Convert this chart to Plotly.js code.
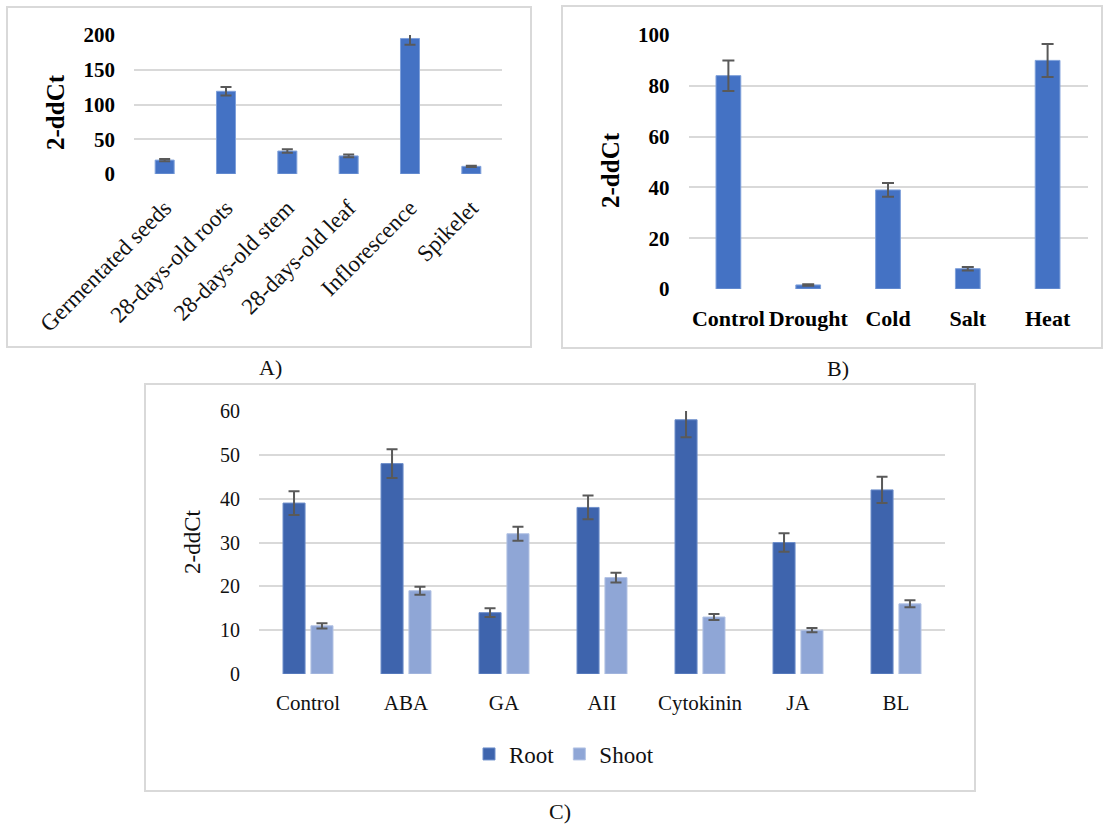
<!DOCTYPE html>
<html>
<head>
<meta charset="utf-8">
<script src="https://cdn.plot.ly/plotly-3.0.1.min.js"></script>
<style>
html,body{margin:0;padding:0;background:#fff;}
#chart{width:1104px;height:825px;}
</style>
</head>
<body>
<div id="chart"></div>
<script>
// ---- Data ----
const catsA = ['Germentated seeds', '28-days-old roots', '28-days-old stem', '28-days-old leaf', 'Inflorescence', 'Spikelet'];
const valsA = [20, 119, 33, 26, 195, 11];
const errA = [1.5, 6, 2.5, 2, 9, 1];

const catsB = ['Control', 'Drought', 'Cold', 'Salt', 'Heat'];
const valsB = [84, 1.6, 39, 8, 90];
const errB = [6, 0.3, 2.7, 0.7, 6.5];

const catsC = ['Control', 'ABA', 'GA', 'AII', 'Cytokinin', 'JA', 'BL'];
const rootC = [39, 48, 14, 38, 58, 30, 42];
const rootErr = [2.7, 3.3, 1, 2.7, 4, 2.1, 3];
const shootC = [11, 19, 32, 22, 13, 10, 16];
const shootErr = [0.6, 0.9, 1.6, 1.1, 0.7, 0.5, 0.8];

const yTitle = '2-ddCt';
const panelLabels = ['A)', 'B)', 'C)'];

// ---- Helpers ----
const W = 1104, H = 825;
const px = x => x / W;
const py = y => 1 - y / H;
const FONT = 'Liberation Serif';
const GRID = '#D9D9D9';
const ERRC = '#595959';

function box(x0, y0, x1, y1) {
  return {type: 'rect', xref: 'paper', yref: 'paper', x0: px(x0), x1: px(x1), y0: py(y1), y1: py(y0),
    line: {color: GRID, width: 2}, fillcolor: 'rgba(0,0,0,0)', layer: 'below'};
}

const traces = [
  {type: 'bar', x: catsA, y: valsA, xaxis: 'x', yaxis: 'y', width: 0.31, showlegend: false,
    marker: {color: '#4472C4', line: {color: '#7FA0DA', width: 1}},
    error_y: {type: 'data', array: errA, visible: true, color: ERRC, thickness: 2, width: 5.5}},
  {type: 'bar', x: catsB, y: valsB, xaxis: 'x2', yaxis: 'y2', width: 0.31, showlegend: false,
    marker: {color: '#4472C4', line: {color: '#7FA0DA', width: 1}},
    error_y: {type: 'data', array: errB, visible: true, color: ERRC, thickness: 2, width: 6}},
  {type: 'bar', name: 'Root', x: catsC, y: rootC, xaxis: 'x3', yaxis: 'y3',
    marker: {color: '#3E64AD', line: {color: '#6F8FCB', width: 1}},
    error_y: {type: 'data', array: rootErr, visible: true, color: ERRC, thickness: 2, width: 5.5}},
  {type: 'bar', name: 'Shoot', x: catsC, y: shootC, xaxis: 'x3', yaxis: 'y3',
    marker: {color: '#8FA6D6', line: {color: '#B3C3E4', width: 1}},
    error_y: {type: 'data', array: shootErr, visible: true, color: ERRC, thickness: 2, width: 5.5}}
];

const yBase = {showgrid: true, gridcolor: GRID, gridwidth: 1.5, zeroline: false, showline: false, ticks: '',
  ticklabelstandoff: 18, fixedrange: true};
const xBase = {showgrid: false, zeroline: false, showline: false, ticks: '', fixedrange: true};

const layout = {
  width: W, height: H,
  margin: {l: 0, r: 0, t: 0, b: 0},
  paper_bgcolor: '#fff', plot_bgcolor: 'rgba(0,0,0,0)',
  font: {family: FONT, color: '#000', size: 20},
  barmode: 'group', bargap: 0.43, bargroupgap: 0.21,
  showlegend: true,
  legend: {orientation: 'h', x: px(564), xanchor: 'center', y: py(754), yanchor: 'middle',
    font: {family: FONT, size: 23, color: '#111'}},
  xaxis: Object.assign({}, xBase, {domain: [px(134), px(502)], anchor: 'y', tickangle: -45,
    tickfont: {family: FONT, size: 23, color: '#111'}, ticklabelstandoff: 15}),
  yaxis: Object.assign({}, yBase, {domain: [py(174), py(35)], anchor: 'x', range: [0, 200], dtick: 50,
    tickfont: {family: FONT, size: 21, color: '#000', weight: 'bold'}}),
  xaxis2: Object.assign({}, xBase, {domain: [px(688.5), px(1087.5)], anchor: 'y2', tickangle: 0,
    tickfont: {family: FONT, size: 22, color: '#000', weight: 'bold'}, ticklabelstandoff: 14}),
  yaxis2: Object.assign({}, yBase, {domain: [py(289), py(35)], anchor: 'x2', range: [0, 100], dtick: 20,
    tickfont: {family: FONT, size: 21, color: '#000', weight: 'bold'}}),
  xaxis3: Object.assign({}, xBase, {domain: [px(259), px(945)], anchor: 'y3', tickangle: 0,
    tickfont: {family: FONT, size: 21, color: '#111'}, ticklabelstandoff: 14}),
  yaxis3: Object.assign({}, yBase, {domain: [py(674), py(411)], anchor: 'x3', range: [0, 60], dtick: 10,
    tickfont: {family: FONT, size: 20, color: '#111'}}),
  shapes: [box(7, 7, 531, 347), box(562, 6, 1102, 348), box(145, 384, 975, 791)],
  annotations: [
    {xref: 'paper', yref: 'paper', x: px(56), y: py(112), text: yTitle, textangle: -90, showarrow: false,
      font: {family: FONT, size: 25, color: '#000', weight: 'bold'}, xanchor: 'center', yanchor: 'middle'},
    {xref: 'paper', yref: 'paper', x: px(610), y: py(170), text: yTitle, textangle: -90, showarrow: false,
      font: {family: FONT, size: 25, color: '#000', weight: 'bold'}, xanchor: 'center', yanchor: 'middle'},
    {xref: 'paper', yref: 'paper', x: px(192), y: py(542), text: yTitle, textangle: -90, showarrow: false,
      font: {family: FONT, size: 23, color: '#111'}, xanchor: 'center', yanchor: 'middle'},
    {xref: 'paper', yref: 'paper', x: px(270), y: py(367), text: panelLabels[0], showarrow: false,
      font: {family: FONT, size: 22, color: '#111'}, xanchor: 'center', yanchor: 'middle'},
    {xref: 'paper', yref: 'paper', x: px(838), y: py(368), text: panelLabels[1], showarrow: false,
      font: {family: FONT, size: 22, color: '#111'}, xanchor: 'center', yanchor: 'middle'},
    {xref: 'paper', yref: 'paper', x: px(560), y: py(811), text: panelLabels[2], showarrow: false,
      font: {family: FONT, size: 22, color: '#111'}, xanchor: 'center', yanchor: 'middle'}
  ]
};

Plotly.newPlot('chart', traces, layout, {displayModeBar: false});
</script>
</body>
</html>
